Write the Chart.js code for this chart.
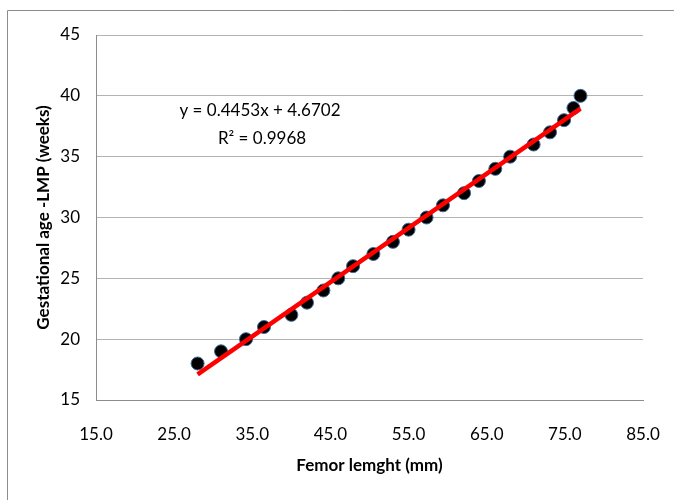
<!DOCTYPE html>
<html>
<head>
<meta charset="utf-8">
<script src="https://cdn.jsdelivr.net/npm/chart.js@4.4.1/dist/chart.umd.min.js"></script>
<style>
  html, body { margin: 0; padding: 0; background: #ffffff; overflow: hidden; width: 674px; height: 500px; }
  #wrap { width: 674px; height: 500px; position: relative; overflow: hidden; }
  canvas { display: block; }
</style>
</head>
<body>
<div id="wrap"><canvas id="c" width="674" height="500" style="width:674px;height:500px"></canvas></div>
<script>
// Femur length (mm)
const femurLength = [28.0, 31.0, 34.2, 36.5, 40.0, 42.0, 44.1, 46.0, 47.9, 50.5, 53.0, 55.0,
                     57.3, 59.4, 62.1, 64.0, 66.1, 68.0, 71.0, 73.1, 74.9, 76.1, 77.0];
// Gestational age (weeks)
const gestationalAge = [18, 19, 20, 21, 22, 23, 24, 25, 26, 27, 28, 29,
                        30, 31, 32, 33, 34, 35, 36, 37, 38, 39, 40];
// Linear trendline end points
const trendX = [28.0, 77.0];
const trendY = [17.1, 38.95];
const xTicks = [15, 25, 35, 45, 55, 65, 75, 85];
const yTicks = [15, 20, 25, 30, 35, 40, 45];
const equationLines = ['y = 0.4453x + 4.6702', 'R\u00B2 = 0.9968'];

const FONT = 'Lato, "Open Sans", "Liberation Sans", sans-serif';

const frameAndEquation = {
  id: 'frameAndEquation',
  beforeDraw(chart) {
    const ctx = chart.ctx;
    ctx.save();
    ctx.fillStyle = '#ffffff';
    ctx.fillRect(0, 0, chart.width, chart.height);
    ctx.strokeStyle = '#8c8c8c';
    ctx.lineWidth = 1;
    ctx.beginPath();
    ctx.moveTo(7.5, chart.height);
    ctx.lineTo(7.5, 10.5);
    ctx.lineTo(chart.width, 10.5);
    ctx.stroke();
    ctx.restore();
  },
  afterDraw(chart) {
    const ctx = chart.ctx;
    ctx.save();
    ctx.fillStyle = '#000000';
    ctx.font = '17px ' + FONT;
    ctx.textAlign = 'center';
    ctx.textBaseline = 'middle';
    ctx.fillText(equationLines[0], 260, 111);
    ctx.fillText(equationLines[1], 262, 139);
    ctx.restore();
  }
};

new Chart(document.getElementById('c'), {
  type: 'scatter',
  data: {
    datasets: [
      {
        label: 'Trendline',
        type: 'line',
        data: trendX.map((x, i) => ({ x: x, y: trendY[i] })),
        borderColor: '#ff0000',
        borderWidth: 4.5,
        pointRadius: 0,
        fill: false,
        order: 0
      },
      {
        label: 'Data',
        data: femurLength.map((x, i) => ({ x: x, y: gestationalAge[i] })),
        backgroundColor: '#000000',
        borderColor: '#3f6a96',
        borderWidth: 1,
        pointRadius: 6.5,
        pointHoverRadius: 6.5,
        order: 1
      }
    ]
  },
  options: {
    responsive: false,
    maintainAspectRatio: false,
    devicePixelRatio: 1,
    animation: false,
    events: [],
    layout: { padding: { left: 0, top: 35, right: 31, bottom: 0 } },
    plugins: {
      legend: { display: false },
      tooltip: { enabled: false }
    },
    scales: {
      x: {
        type: 'linear',
        min: 15, max: 85,
        afterBuildTicks(scale) { scale.ticks = xTicks.map(v => ({ value: v })); },
        afterFit(scale) { scale.height = 100; scale.paddingLeft = 0; scale.paddingRight = 0; },
        grid: { display: false, drawTicks: false },
        border: { display: true, color: '#8c8c8c', width: 1 },
        ticks: {
          padding: 24,
          color: '#000000',
          font: { family: FONT, size: 17 },
          callback: v => Number(v).toFixed(1),
          maxRotation: 0
        },
        title: {
          display: true,
          text: 'Femor lemght (mm)',
          color: '#000000',
          font: { family: FONT, size: 17, weight: 'bold' },
          padding: { top: 0, bottom: 24 }
        }
      },
      y: {
        type: 'linear',
        min: 15, max: 45,
        afterBuildTicks(scale) { scale.ticks = yTicks.map(v => ({ value: v })); },
        afterFit(scale) { scale.width = 96; },
        grid: { color: '#b3b3b3', lineWidth: 1, drawTicks: false },
        border: { display: true, color: '#8c8c8c', width: 1 },
        ticks: {
          padding: 16,
          color: '#000000',
          font: { family: FONT, size: 17 },
          callback: v => String(v)
        },
        title: {
          display: true,
          text: 'Gestational age -LMP (weeks)',
          color: '#000000',
          font: { family: FONT, size: 17, weight: 'bold' },
          padding: { top: 33, bottom: 0 }
        }
      }
    }
  },
  plugins: [frameAndEquation]
});
</script>
</body>
</html>
